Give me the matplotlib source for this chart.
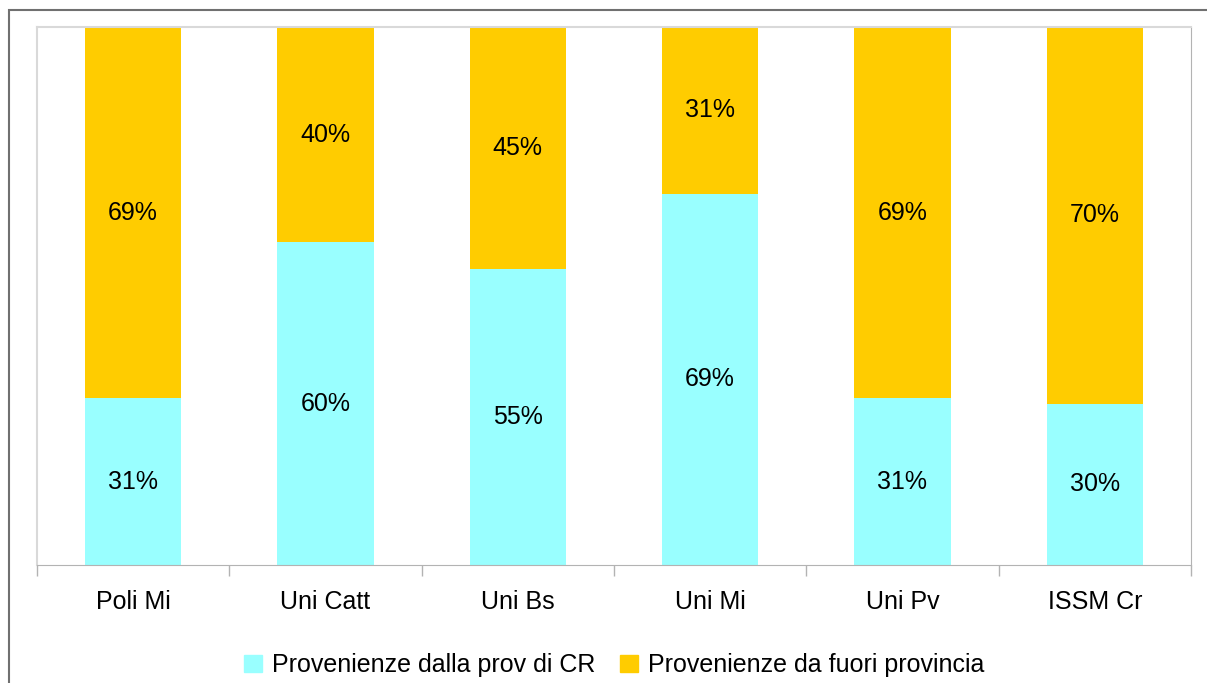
import matplotlib
matplotlib.use("Agg")
import matplotlib.pyplot as plt
from matplotlib.patches import Rectangle, Patch

categories = ["Poli Mi", "Uni Catt", "Uni Bs", "Uni Mi", "Uni Pv", "ISSM Cr"]
dalla_prov = [31, 60, 55, 69, 31, 30]
fuori_prov = [69, 40, 45, 31, 69, 70]
series_names = ["Provenienze dalla prov di CR", "Provenienze da fuori provincia"]

cyan = "#99ffff"
yellow = "#ffcc00"

plt.rcParams["font.family"] = ["Liberation Sans", "DejaVu Sans"]

fig = plt.figure(figsize=(12.07, 6.83), dpi=100)
ax = fig.add_axes([37 / 1207, 1 - 565 / 683, (1191 - 37) / 1207, (565 - 27) / 683])

# outer border
fig.patches.append(Rectangle((9 / 1207, -0.05), 1.1, 1 - 10 / 683 + 0.05,
                             transform=fig.transFigure, fill=False,
                             edgecolor="#707070", linewidth=1.5))

x = list(range(len(categories)))
b1 = ax.bar(x, dalla_prov, width=0.5, color=cyan)
b2 = ax.bar(x, fuori_prov, width=0.5, bottom=dalla_prov, color=yellow)

for i in x:
    ax.text(i, dalla_prov[i] / 2, f"{dalla_prov[i]}%", ha="center", va="center", fontsize=18)
    ax.text(i, dalla_prov[i] + fuori_prov[i] / 2, f"{fuori_prov[i]}%", ha="center", va="center", fontsize=18)

ax.set_xlim(-0.5, len(categories) - 0.5)
ax.set_ylim(0, 100)
ax.set_yticks([])
ax.set_xticks(x)
ax.set_xticklabels(categories, fontsize=18)
ax.tick_params(axis="x", which="major", length=0, pad=18)
ax.set_xticks([i - 0.5 for i in range(len(categories) + 1)], minor=True)
ax.tick_params(axis="x", which="minor", length=8, color="#b3b3b3", width=1)

for s in ["left", "top"]:
    ax.spines[s].set_color("#d9d9d9")
    ax.spines[s].set_linewidth(1.5)
ax.spines["right"].set_color("#b3b3b3")
ax.spines["bottom"].set_color("#b3b3b3")

handles = [Patch(color=cyan), Patch(color=yellow)]
fig.legend(handles, series_names, loc="center", bbox_to_anchor=(0.509, 1 - 665 / 683),
           ncol=2, frameon=False, fontsize=18, handlelength=0.7, handleheight=0.7,
           handletextpad=0.4, columnspacing=1.0)

fig.savefig("out.png", dpi=100)
